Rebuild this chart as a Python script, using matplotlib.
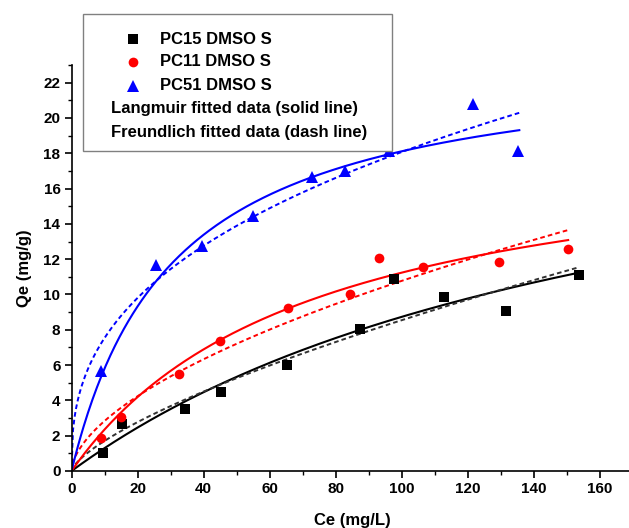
import matplotlib.pyplot as plt
import numpy as np
from matplotlib.lines import Line2D
from matplotlib.patches import Rectangle

plt.rcParams['font.family'] = ['Liberation Sans', 'DejaVu Sans']
plt.rcParams['font.weight'] = 'bold'

# measured points (Ce mg/L, Qe mg/g)
pc15_ce = [9.6, 15.2, 34.4, 45.4, 65.4, 87.4, 97.7, 112.9, 131.7, 153.8]
pc15_qe = [1.03, 2.67, 3.54, 4.5, 5.98, 8.06, 10.9, 9.87, 9.05, 11.1]

pc11_ce = [8.8, 14.9, 32.6, 45.0, 65.7, 84.4, 93.3, 106.4, 129.6, 150.5]
pc11_qe = [1.85, 3.05, 5.5, 7.35, 9.26, 10.04, 12.07, 11.56, 11.85, 12.59]

pc51_ce = [8.94, 25.5, 39.5, 54.9, 72.8, 82.9, 96.2, 121.6, 135.4]
pc51_qe = [5.64, 11.67, 12.73, 14.44, 16.67, 17.0, 18.1, 20.8, 18.1]

# fitted model parameters
# Langmuir: qm, K   Freundlich: Kf, 1/n   and last Ce of each fit
lang_qm = [24.1, 19.4, 23.7]
lang_k = [0.00568, 0.01376, 0.0324]
freu_kf = [0.34, 0.745, 3.14]
freu_n = [0.70, 0.58, 0.38]
fit_end = [153.8, 150.5, 135.7]

names = ['PC15 DMSO S', 'PC11 DMSO S', 'PC51 DMSO S']
colors = ['black', 'red', 'blue']
dash_colors = ['#333333', 'red', 'blue']
markers = ['s', 'o', '^']
msizes = [6.5, 7, 8]

fig = plt.figure(figsize=(6.29, 5.28), dpi=100)
W, H = 629.0, 528.0
ax = fig.add_axes([71.5 / W, (H - 471) / H, (632.5 - 71.5) / W, (471 - 65) / H])

all_ce = [pc15_ce, pc11_ce, pc51_ce]
all_qe = [pc15_qe, pc11_qe, pc51_qe]

for i in range(3):
    c = np.linspace(0, fit_end[i], 300)
    q_lang = lang_qm[i] * lang_k[i] * c / (1 + lang_k[i] * c)
    q_freu = freu_kf[i] * c ** freu_n[i]
    ax.plot(c, q_lang, color=colors[i], lw=1.5, zorder=2)
    ax.plot(c, q_freu, color=dash_colors[i], lw=1.4, ls=(0, (2.4, 1.6)), zorder=2)
    ax.plot(all_ce[i], all_qe[i], ls='none', marker=markers[i], ms=msizes[i],
            color=colors[i], markeredgewidth=0, zorder=3)

ax.set_xlim(0, 170)
ax.set_ylim(0, 23)
ax.set_xticks(np.arange(0, 161, 20))
ax.set_xticks(np.arange(0, 171, 10), minor=True)
ax.set_yticks(np.arange(0, 23, 2))
ax.set_yticks(np.arange(0, 24, 1), minor=True)
ax.spines['top'].set_visible(False)
ax.spines['right'].set_visible(False)
ax.spines['left'].set_linewidth(1.2)
ax.spines['bottom'].set_linewidth(1.2)
ax.tick_params(which='major', direction='out', length=5, width=1.2, labelsize=11, pad=3)
ax.tick_params(which='minor', direction='out', length=3, width=1.0)
for lab in ax.get_xticklabels() + ax.get_yticklabels():
    lab.set_fontweight('bold')

ax.set_xlabel('Ce (mg/L)', fontsize=12, fontweight='bold', labelpad=12)
ax.set_ylabel('Qe (mg/g)', fontsize=12, fontweight='bold', labelpad=8)

# legend box drawn by hand, it sits partly above the axes
box = Rectangle((83 / W, 1 - 151 / H), (392 - 83) / W, (151 - 14) / H,
                transform=fig.transFigure, facecolor='white', edgecolor='#808080',
                lw=1.0, zorder=5)
fig.patches.append(box)

rows = [39, 62, 86]
for i in range(3):
    y = 1 - rows[i] / H
    fig.lines.append(Line2D([133 / W], [y], transform=fig.transFigure, ls='none',
                            marker=markers[i], ms=msizes[i], color=colors[i],
                            markeredgewidth=0, zorder=6))
    fig.text(160 / W, y, names[i], fontsize=12, fontweight='bold', va='center', zorder=6)

fig.text(111 / W, 1 - 109 / H, 'Langmuir fitted data (solid line)', fontsize=12,
         fontweight='bold', va='center', zorder=6)
fig.text(111 / W, 1 - 133 / H, 'Freundlich fitted data (dash line)', fontsize=12,
         fontweight='bold', va='center', zorder=6)

plt.savefig('out.png', dpi=100)
